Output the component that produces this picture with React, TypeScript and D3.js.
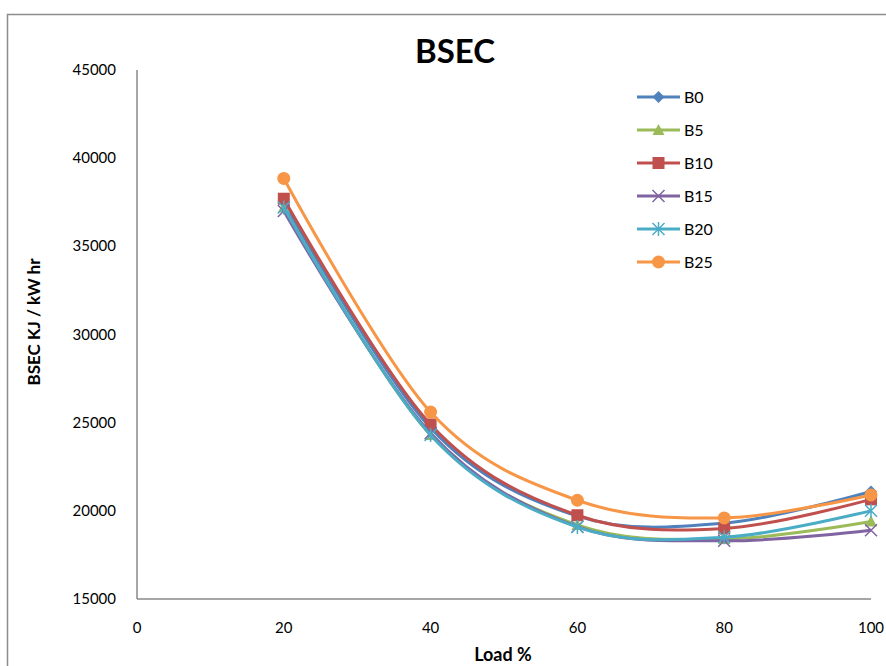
import React from "react";
import * as d3 from "d3";

const loads = [20, 40, 60, 80, 100];
const seriesNames = ["B0", "B5", "B10", "B15", "B20", "B25"];
const b0 = [37500, 24700, 19700, 19300, 21100];
const b5 = [37200, 24300, 19200, 18400, 19400];
const b10 = [37700, 24900, 19750, 19000, 20650];
const b15 = [37000, 24400, 19100, 18300, 18900];
const b20 = [37200, 24300, 19080, 18500, 20000];
const b25 = [38850, 25600, 20600, 19600, 20900];
const seriesValues = [b0, b5, b10, b15, b20, b25];
const colors = ["#4F81BD", "#9BBB59", "#C0504D", "#8064A2", "#4BACC6", "#F79646"];
const markers = ["diamond", "triangle", "square", "x", "star", "circle"];
const xTicks = [0, 20, 40, 60, 80, 100];
const yTicks = [15000, 20000, 25000, 30000, 35000, 40000, 45000];

const W = 886, H = 666;
const x = d3.scaleLinear().domain([0, 100]).range([137, 871]);
const y = d3.scaleLinear().domain([15000, 45000]).range([599, 70]);
const FONT = "Lato, 'Open Sans', sans-serif";

function Marker({ kind, cx, cy, color }: { kind: string; cx: number; cy: number; color: string }) {
  switch (kind) {
    case "diamond":
      return <path d={`M${cx},${cy - 6}L${cx + 6},${cy}L${cx},${cy + 6}L${cx - 6},${cy}Z`} fill={color} />;
    case "triangle":
      return <path d={`M${cx},${cy - 6}L${cx + 6},${cy + 5}L${cx - 6},${cy + 5}Z`} fill={color} />;
    case "square":
      return <rect x={cx - 6} y={cy - 6} width={12} height={12} fill={color} />;
    case "x":
      return <path d={`M${cx - 6},${cy - 6}L${cx + 6},${cy + 6}M${cx - 6},${cy + 6}L${cx + 6},${cy - 6}`} stroke={color} strokeWidth={1.5} />;
    case "star":
      return (
        <path
          d={`M${cx - 6},${cy - 6}L${cx + 6},${cy + 6}M${cx - 6},${cy + 6}L${cx + 6},${cy - 6}M${cx},${cy - 7}L${cx},${cy + 7}`}
          stroke={color}
          strokeWidth={1.5}
        />
      );
    default:
      return <circle cx={cx} cy={cy} r={6.5} fill={color} />;
  }
}

export default function App() {
  const line = d3
    .line<number>()
    .x((_, i) => x(loads[i]))
    .y((d) => y(d))
    .curve(d3.curveCardinal.tension(0));

  return (
    <svg width={W} height={H} style={{ position: "absolute", left: 0, top: 0, background: "#fff" }} fontFamily={FONT}>
      <rect x={0} y={0} width={W} height={H} fill="#fff" />
      <path d={`M7.5,${H}L7.5,14.5L${W},14.5`} fill="none" stroke="#8c8c8c" strokeWidth={1.5} />
      <text x={455} y={63} textAnchor="middle" fontSize={33} fontWeight="bold" fill="#000">
        BSEC
      </text>
      {/* axes */}
      <line x1={x(0)} x2={x(0)} y1={y(45000)} y2={y(15000)} stroke="#888" strokeWidth={1.5} />
      <line x1={x(0)} x2={x(100)} y1={y(15000)} y2={y(15000)} stroke="#888" strokeWidth={1.5} />
      {yTicks.map((t) => (
        <text key={t} x={116} y={y(t) + 5} textAnchor="end" fontSize={15} fill="#000">
          {t}
        </text>
      ))}
      {xTicks.map((t) => (
        <text key={t} x={x(t)} y={633} textAnchor="middle" fontSize={15} fill="#000">
          {t}
        </text>
      ))}
      <text x={503} y={661} textAnchor="middle" fontSize={18} fontWeight="bold" fill="#000">
        Load %
      </text>
      <text
        transform={`translate(40,322) rotate(-90)`}
        textAnchor="middle"
        fontSize={17}
        fontWeight="bold"
        fill="#000"
      >
        BSEC KJ / kW hr
      </text>
      {seriesValues.map((vals, si) => (
        <g key={seriesNames[si]}>
          <path d={line(vals) || ""} fill="none" stroke={colors[si]} strokeWidth={3} />
          {vals.map((v, i) => (
            <Marker key={i} kind={markers[si]} cx={x(loads[i])} cy={y(v)} color={colors[si]} />
          ))}
        </g>
      ))}
      {/* legend */}
      {seriesNames.map((n, i) => {
        const ly = 97 + i * 33;
        return (
          <g key={n}>
            <line x1={637} x2={680} y1={ly} y2={ly} stroke={colors[i]} strokeWidth={3} />
            <Marker kind={markers[i]} cx={658.5} cy={ly} color={colors[i]} />
            <text x={684} y={ly + 6} fontSize={16} fill="#000">
              {n}
            </text>
          </g>
        );
      })}
    </svg>
  );
}
